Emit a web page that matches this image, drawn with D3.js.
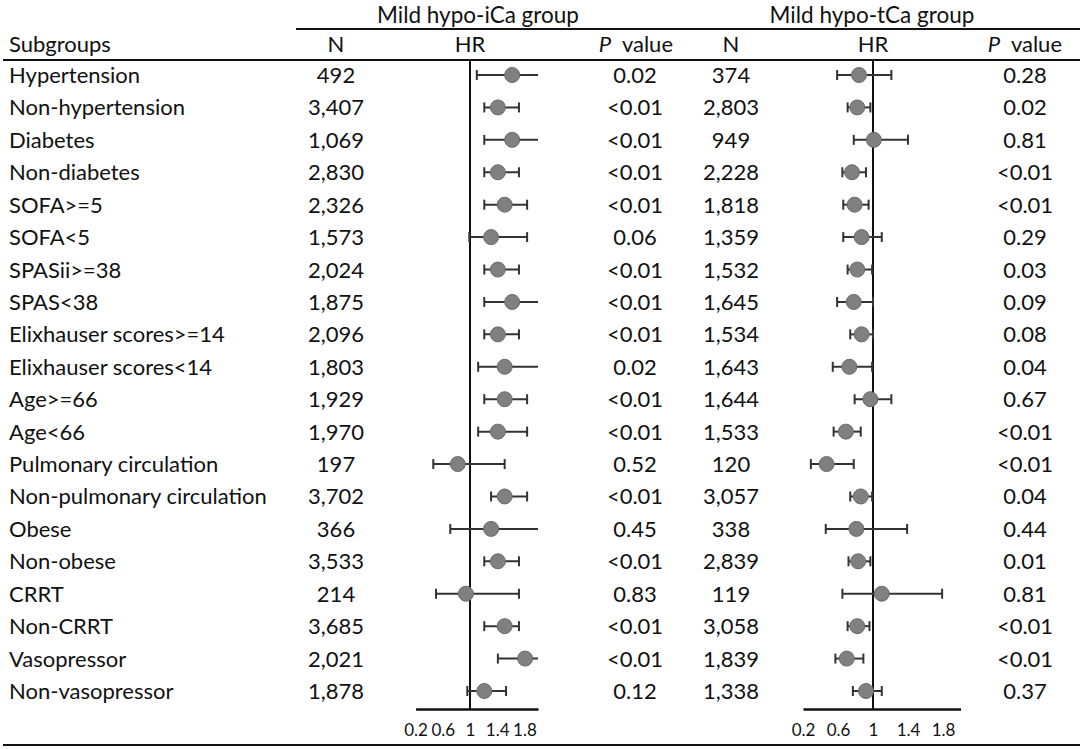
<!DOCTYPE html>
<html>
<head>
<meta charset="utf-8">
<script src="https://cdn.jsdelivr.net/npm/d3@7"></script>
<style>
  body { margin: 0; background: #fff; }
  text { font-family: Lato, "Open Sans", sans-serif; fill: #111; }
</style>
</head>
<body>
<div id="chart"></div>
<script>
// Table data

const subgroups = ["Hypertension", "Non-hypertension", "Diabetes", "Non-diabetes", "SOFA>=5", "SOFA<5",
    "SPASii>=38", "SPAS<38", "Elixhauser scores>=14", "Elixhauser scores<14", "Age>=66", "Age<66",
    "Pulmonary circulation", "Non-pulmonary circulation", "Obese", "Non-obese", "CRRT", "Non-CRRT",
    "Vasopressor", "Non-vasopressor"];

// Mild hypo-iCa group
const nICa = ["492", "3,407", "1,069", "2,830", "2,326", "1,573", "2,024", "1,875", "2,096", "1,803",
    "1,929", "1,970", "197", "3,702", "366", "3,533", "214", "3,685", "2,021", "1,878"];
const hrICa = [1.62, 1.41, 1.62, 1.41, 1.51, 1.31, 1.41, 1.62, 1.41, 1.51, 1.51, 1.41, 0.82, 1.51, 1.31, 1.41, 0.94, 1.51, 1.81, 1.21];
const loICa = [1.10, 1.21, 1.21, 1.21, 1.21, 0.99, 1.21, 1.21, 1.21, 1.12, 1.21, 1.12, 0.46, 1.31, 0.71, 1.21, 0.50, 1.21, 1.41, 0.96];
const hiICa = [2.20, 1.72, 2.20, 1.72, 1.84, 1.84, 1.72, 2.20, 1.72, 2.20, 1.84, 1.84, 1.51, 1.84, 2.20, 1.72, 1.72, 1.72, 2.20, 1.53];
const pICa = ["0.02", "<0.01", "<0.01", "<0.01", "<0.01", "0.06", "<0.01", "<0.01", "<0.01", "0.02",
    "<0.01", "<0.01", "0.52", "<0.01", "0.45", "<0.01", "0.83", "<0.01", "<0.01", "0.12"];

// Mild hypo-tCa group
const nTCa = ["374", "2,803", "949", "2,228", "1,818", "1,359", "1,532", "1,645", "1,534", "1,643",
    "1,644", "1,533", "120", "3,057", "338", "2,839", "119", "3,058", "1,839", "1,338"];
const hrTCa = [0.84, 0.82, 1.01, 0.76, 0.79, 0.87, 0.82, 0.78, 0.87, 0.73, 0.97, 0.69, 0.47, 0.86, 0.81, 0.83, 1.10, 0.82, 0.70, 0.92];
const loTCa = [0.59, 0.71, 0.78, 0.65, 0.66, 0.66, 0.71, 0.59, 0.74, 0.54, 0.79, 0.55, 0.29, 0.74, 0.46, 0.72, 0.65, 0.71, 0.57, 0.77];
const hiTCa = [1.21, 0.97, 1.40, 0.92, 0.95, 1.10, 0.99, 1.00, 1.00, 0.99, 1.21, 0.86, 0.78, 0.99, 1.39, 0.97, 1.79, 0.96, 0.89, 1.10];
const pTCa = ["0.28", "0.02", "0.81", "<0.01", "<0.01", "0.29", "0.03", "0.09", "0.08", "0.04",
    "0.67", "<0.01", "<0.01", "0.04", "0.44", "0.01", "0.81", "<0.01", "<0.01", "0.37"];

const hrTicks = [0.2, 0.6, 1, 1.4, 1.8];
const hrDomain = [0.2, 2.0];

const width = 1084;
const height = 749;
const fontSize = 22;

// Row positions
const y = d3.scalePoint()
    .domain(subgroups)
    .range([75, 691]);

const axisY = 709;

// HR scales, one per group
const xICa = d3.scaleLinear().domain(hrDomain).range([415.6, 538]);
const xTCa = d3.scaleLinear().domain(hrDomain).range([803, 960.5]);

const svg = d3.select("#chart").append("svg")
    .attr("width", width)
    .attr("height", height);

/**
 * Draws the horizontal rules of the table
 */
function drawRules() {
    svg.append("line").attr("x1", 296).attr("x2", 1080).attr("y1", 29).attr("y2", 29)
        .attr("stroke", "#111").attr("stroke-width", 2);
    svg.append("line").attr("x1", 3).attr("x2", 1080).attr("y1", 60).attr("y2", 60)
        .attr("stroke", "#111").attr("stroke-width", 2);
    svg.append("line").attr("x1", 3).attr("x2", 1080).attr("y1", 745).attr("y2", 745)
        .attr("stroke", "#111").attr("stroke-width", 2);
}

/**
 * Draws the header texts
 */
function drawHeader() {
    const head = svg.append("g").style("font-size", fontSize + "px");
    head.append("text").attr("x", 478).attr("y", 23).attr("text-anchor", "middle").style("font-size", "22.5px").text("Mild hypo-iCa group");
    head.append("text").attr("x", 872).attr("y", 23).attr("text-anchor", "middle").style("font-size", "22.5px").text("Mild hypo-tCa group");
    head.append("text").attr("x", 9).attr("y", 52).text("Subgroups");
    head.append("text").attr("x", 336).attr("y", 52).attr("text-anchor", "middle").text("N");
    head.append("text").attr("x", xICa(1)).attr("y", 52).attr("text-anchor", "middle").text("HR");
    head.append("text").attr("x", 731).attr("y", 52).attr("text-anchor", "middle").text("N");
    head.append("text").attr("x", xTCa(1)).attr("y", 52).attr("text-anchor", "middle").text("HR");

    [673, 1062].forEach(xr => {
        const t = head.append("text").attr("x", xr).attr("y", 52).attr("text-anchor", "end");
        t.append("tspan").style("font-style", "italic").text("P");
        t.append("tspan").text("\u00a0 value");
    });
}

/**
 * Draws one text column
 * @param {string[]} values - texts, one per row
 * @param {number} x - column position
 * @param {string} anchor - text anchor
 */
function drawColumn(values, x, anchor) {
    svg.append("g")
        .style("font-size", fontSize + "px")
        .selectAll("text")
        .data(values)
        .enter()
        .append("text")
        .attr("x", x)
        .attr("y", (d, i) => y(subgroups[i]) + 8)
        .attr("text-anchor", anchor)
        .text(d => d);
}

/**
 * Draws a forest plot panel
 */
function drawForest(x, hr, lo, hi) {
    const g = svg.append("g");
    const [d0, d1] = x.domain();
    const clip = v => Math.max(d0, Math.min(d1, v));

    // reference line at HR = 1
    g.append("line")
        .attr("x1", x(1)).attr("x2", x(1))
        .attr("y1", 60).attr("y2", axisY)
        .attr("stroke", "#111").attr("stroke-width", 2);

    // axis
    const axis = g.append("g")
        .attr("transform", `translate(0,${axisY})`)
        .call(d3.axisBottom(x).tickValues(hrTicks).tickSize(0).tickPadding(15).tickFormat(d3.format("")));
    axis.select(".domain").attr("stroke", "#111").attr("stroke-width", 2.5);
    axis.selectAll("text").style("font-size", "17px").style("font-family", "Lato, sans-serif").attr("fill", "#333");

    const rows = g.selectAll(".row")
        .data(subgroups)
        .enter()
        .append("g")
        .attr("transform", d => `translate(0,${y(d)})`);

    rows.append("line")
        .attr("x1", (d, i) => x(clip(lo[i])))
        .attr("x2", (d, i) => x(clip(hi[i])))
        .attr("stroke", "#333").attr("stroke-width", 2);

    // caps, only where the interval ends inside the axis
    rows.filter((d, i) => lo[i] >= d0).append("line")
        .attr("x1", d => x(lo[subgroups.indexOf(d)]))
        .attr("x2", d => x(lo[subgroups.indexOf(d)]))
        .attr("y1", -5).attr("y2", 5)
        .attr("stroke", "#333").attr("stroke-width", 2);
    rows.filter((d, i) => hi[i] <= d1).append("line")
        .attr("x1", d => x(hi[subgroups.indexOf(d)]))
        .attr("x2", d => x(hi[subgroups.indexOf(d)]))
        .attr("y1", -5).attr("y2", 5)
        .attr("stroke", "#333").attr("stroke-width", 2);

    rows.append("circle")
        .attr("cx", (d, i) => x(hr[i]))
        .attr("r", 7.5)
        .attr("fill", "#808080")
        .attr("stroke", "#6a6a6a").attr("stroke-width", 1);
}

drawRules();
drawHeader();
drawColumn(subgroups, 9, "start");
drawColumn(nICa, 336, "middle");
drawColumn(pICa, 635, "middle");
drawColumn(nTCa, 731, "middle");
drawColumn(pTCa, 1025, "middle");
drawForest(xICa, hrICa, loICa, hiICa);
drawForest(xTCa, hrTCa, loTCa, hiTCa);
</script>
</body>
</html>
